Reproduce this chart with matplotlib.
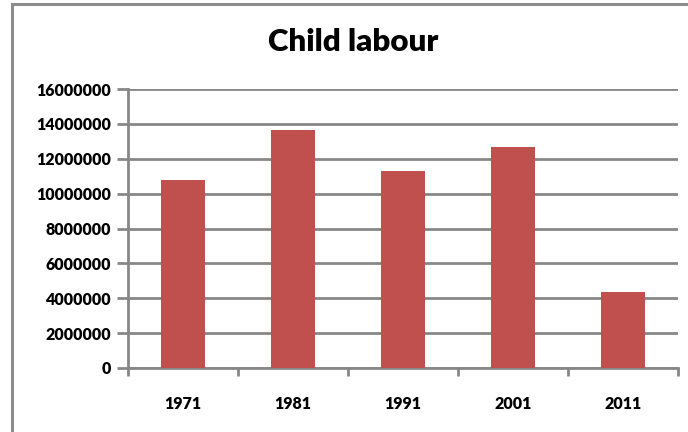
import matplotlib
matplotlib.use("Agg")
import matplotlib.pyplot as plt
from matplotlib.patches import Rectangle
import numpy as np

years = ["1971", "1981", "1991", "2001", "2011"]
child_labour = [10753985, 13640870, 11285349, 12666377, 4353247]
y_ticks = [0, 2000000, 4000000, 6000000, 8000000, 10000000, 12000000, 14000000, 16000000]

plt.rcParams['font.family'] = ['Lato', 'DejaVu Sans']

W, H = 688, 432
fig = plt.figure(figsize=(W / 100, H / 100), dpi=100)

# outer chart border (left and top visible)
fig.patches.append(Rectangle((12 / W, -0.1), 1.2, (H - 4) / H + 0.1, transform=fig.transFigure,
                             fill=False, edgecolor='#8c8c8c', linewidth=2.2))

ax = fig.add_axes([128 / W, 1 - 368 / H, (678 - 128) / W, (368 - 89) / H])
x = np.arange(len(years))
ax.bar(x, child_labour, width=0.4, color='#C0504D', zorder=3)

ax.set_xlim(-0.5, len(years) - 0.5)
ax.set_ylim(0, 16000000)
ax.set_yticks(y_ticks)
ax.set_yticklabels([str(v) for v in y_ticks], fontsize=11.5, fontweight='heavy')
ax.set_xticks(x)
ax.set_xticklabels(years, fontsize=11.5, fontweight='heavy')
ax.set_xticks(np.arange(-0.5, len(years), 1.0), minor=True)

gray = '#878787'
ax.grid(axis='y', color=gray, linewidth=2.0, zorder=0)
ax.set_axisbelow(True)
for s in ['top', 'right']:
    ax.spines[s].set_visible(False)
for s in ['left', 'bottom']:
    ax.spines[s].set_color(gray)
    ax.spines[s].set_linewidth(2.0)

ax.tick_params(axis='y', which='major', length=8, width=2.0, color=gray, pad=4)
ax.tick_params(axis='x', which='major', length=0, pad=20)
ax.tick_params(axis='x', which='minor', length=6, width=2.0, color=gray)

fig.text(353 / W, 1 - 42 / H, "Child labour", ha='center', va='center',
         fontsize=22.5, fontweight='heavy')

fig.savefig("out.png", dpi=100)
